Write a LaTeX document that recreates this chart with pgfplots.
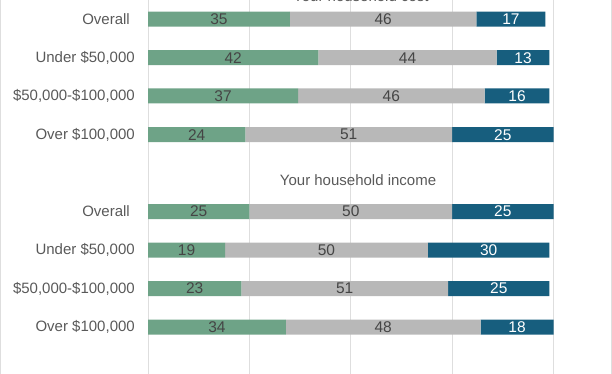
\documentclass[border=0pt]{standalone}
\usepackage{pgfplots}
\pgfplotsset{compat=1.18}
\usepackage{fontspec}
\setmainfont{Liberation Sans}
\definecolor{cgreen}{HTML}{6EA387}
\definecolor{cgray}{HTML}{B8B8B8}
\definecolor{cblue}{HTML}{175E7E}
\definecolor{ctext}{HTML}{454545}
\definecolor{clabel}{HTML}{595959}
\definecolor{cgrid}{HTML}{DEDEDE}
\begin{document}
\begin{tikzpicture}
\begin{axis}[
 at={(148bp,0bp)}, anchor=south west,
 scale only axis, width=405.5bp, height=374bp,
 xmin=0, xmax=100, ymin=0, ymax=374, y dir=reverse,
 xbar stacked, bar width=15bp,
 xtick={0,25,50,75,100}, xticklabels={},
 xmajorgrids, grid style={cgrid, line width=0.8bp},
 ytick={19.2,57.7,96,134.7,211.5,250,288.5,327},
 yticklabels={{Overall\rule{5bp}{0pt}}, {Under \$50,000}, {\$50,000-\$100,000}, {Over \$100,000},
              {Overall\rule{5bp}{0pt}}, {Under \$50,000}, {\$50,000-\$100,000}, {Over \$100,000}},
 yticklabel style={font=\fontsize{15bp}{18bp}\selectfont, text=clabel, anchor=east, inner sep=0pt, xshift=-13bp},
 major tick length=0pt,
 axis line style={draw=none},
 clip=false,
 point meta=explicit symbolic,
 nodes near coords={\pgfplotspointmeta},
 every node near coord/.style={anchor=center, inner sep=0pt, font=\fontsize{15.5bp}{18bp}\selectfont},
]
\addplot[fill=cgreen, draw=none, every node near coord/.append style={text=ctext}] coordinates {
 (35,19.2) [35] (42,57.7) [42] (37,96) [37] (24,134.7) [24]
 (25,211.5) [25] (19,250) [19] (23,288.5) [23] (34,327) [34]};
\addplot[fill=cgray, draw=none, every node near coord/.append style={text=ctext}] coordinates {
 (46,19.2) [46] (44,57.7) [44] (46,96) [46] (51,134.7) [51]
 (50,211.5) [50] (50,250) [50] (51,288.5) [51] (48,327) [48]};
\addplot[fill=cblue, draw=none, every node near coord/.append style={text=white}] coordinates {
 (17,19.2) [17] (13,57.7) [13] (16,96) [16] (25,134.7) [25]
 (25,211.5) [25] (30,250) [30] (25,288.5) [25] (18,327) [18]};
\node[anchor=base, font=\fontsize{15bp}{18bp}\selectfont, text=clabel, inner sep=0pt] at (axis cs:52.5,1.5) {Your household cost};
\node[anchor=base, font=\fontsize{15bp}{18bp}\selectfont, text=clabel, inner sep=0pt] at (axis cs:51.8,185) {Your household income};
\draw[cgrid, line width=1bp] (axis cs:-36.37,0) -- (axis cs:-36.37,374);
\draw[cgrid, line width=1bp] (axis cs:114.3,0) -- (axis cs:114.3,374);
\end{axis}
\pgfresetboundingbox
\useasboundingbox (0,0) rectangle (612bp,374bp);
\end{tikzpicture}
\end{document}
